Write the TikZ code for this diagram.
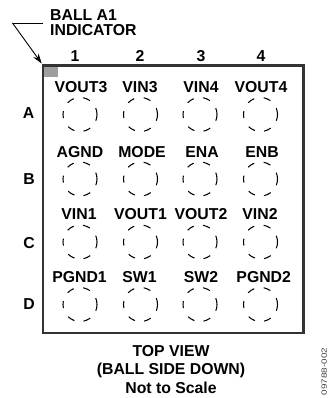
\documentclass[tikz,border=0pt]{standalone}
\usepackage{fontspec}
\usepackage{graphicx}
\setmainfont{Liberation Sans}
\usetikzlibrary{arrows.meta}
\tikzset{
 lbl/.style={font=\fontsize{15.8}{18.5}\selectfont\bfseries,inner sep=0pt,text=black},
 ball/.style={circle,draw=black,line width=1.05pt,minimum size=34pt,inner sep=0pt,
  dash pattern=on 13pt off 9.7pt on 7.3pt off 9.6pt on 7.4pt off 9.4pt on 7pt off 10.1pt on 7.3pt off 9.2pt on 7.4pt off 9.4pt,dash phase=6.5pt},
}
\begin{document}
\begin{tikzpicture}[x=1pt,y=-1pt]
\useasboundingbox (0,0) rectangle (328,398);
\fill[black!38] (43,66) rectangle (58,77.5);
\draw[line width=2.2pt,black!80] (43,65.5) rectangle (303.5,333);
\coordinate (c) at (12.5,23);
\coordinate (e) at (43,23);
\coordinate (t) at (41.7,63.5);
\draw[line width=0.9pt] (e) -- (c);
\draw[line width=0.9pt,-{Stealth[length=10pt,width=6.5pt]}] (c) -- (t);
\node[lbl,anchor=west] (bl) at (50,15) {BALL A1};
\node[lbl,anchor=west] (in) at (50,30) {INDICATOR};
\foreach \n/\x in {1/75,2/140,3/201,4/261}{
 \node[lbl] (col\n) at (\x,56) {\n};
}
\node[lbl] (rA) at (28.5,113) {A};
\node[lbl] (rB) at (29,179) {B};
\node[lbl] (rC) at (29,243) {C};
\node[lbl] (rD) at (29,304) {D};
\foreach \x/\k in {80/1,140.5/2,200/3,260.5/4}{
 \foreach \y/\r in {114.5/A,179/B,242/C,304.5/D}{
  \node[ball] (b\r\k) at (\x,\y) {};
 }
}
\foreach \t/\x/\y in {VOUT3/81/87,VIN3/140/87,VIN4/201/87,VOUT4/261/87,
 AGND/80/152.5,MODE/142/152.5,ENA/202/152.5,ENB/262/152.5,
 VIN1/79/214,VOUT1/140.5/214,VOUT2/201/214,VIN2/260/214,
 PGND1/79.5/277,SW1/139.5/277,SW2/201/277,PGND2/263.7/277}{
 \node[lbl] (t\t) at (\x,\y) {\t};
}
\node[lbl,align=center] (cap) at (171,369.5) {TOP VIEW\\(BALL SIDE DOWN)\\Not to Scale};
\node[font=\fontsize{7.6}{9}\selectfont,rotate=90,inner sep=0pt,text=black!75] (num) at (324.3,371.5) {\scalebox{1.3}[1]{09788-002}};
\end{tikzpicture}
\end{document}
